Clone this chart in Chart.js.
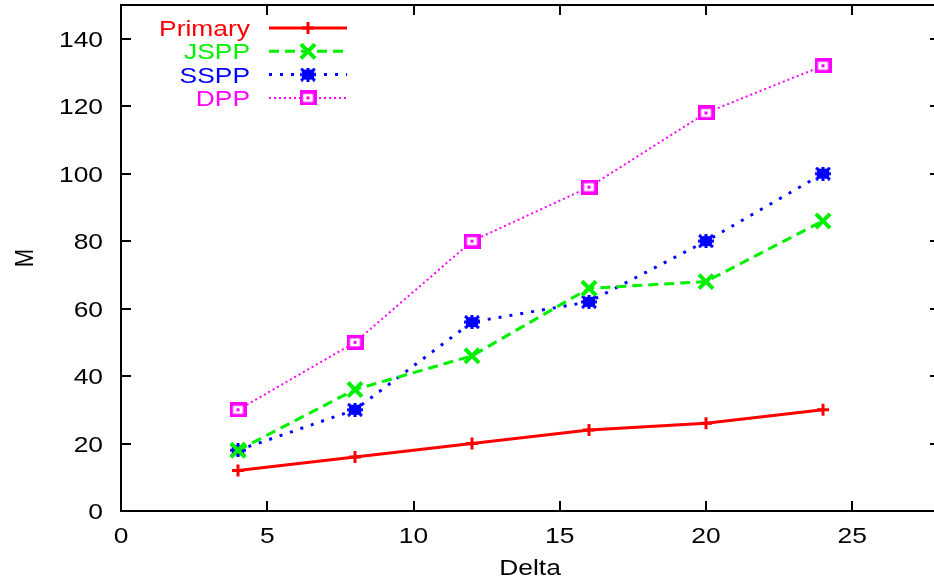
<!DOCTYPE html>
<html>
<head>
<meta charset="utf-8">
<script src="https://cdn.jsdelivr.net/npm/chart.js@4"></script>
<style>
  html, body { margin: 0; padding: 0; background: #fff; overflow: hidden; }
  #wrap { width: 940px; height: 585px; }
</style>
</head>
<body>
<div id="wrap"><canvas id="chartM"></canvas></div>
<script>
// valores leídos por serie
const deltas = [4, 8, 12, 16, 20, 24];
const primary = [12, 16, 20, 24, 26, 30];
const jspp = [18, 36, 46, 66, 68, 86];
const sspp = [18, 30, 56, 62, 80, 100];
const dpp = [30, 50, 80, 96, 118, 132];

const FONT = "22px 'Liberation Sans', Arial, sans-serif";
const STRETCH = 1.2;   // el texto sale un poco ensanchado

const toXY = (ys) => deltas.map((x, i) => ({ x: x, y: ys[i] }));

// texto ensanchado horizontalmente
function wideText(ctx, txt, x, y, align, color) {
    ctx.save();
    ctx.translate(x, y);
    ctx.scale(STRETCH, 1);
    ctx.font = FONT;
    ctx.textAlign = align;
    ctx.textBaseline = 'alphabetic';
    ctx.fillStyle = color;
    ctx.fillText(txt, 0, 0);
    ctx.restore();
}

// marcador '*' relleno para SSPP
function makeStar() {
    const c = document.createElement('canvas');
    c.width = 16; c.height = 14;
    const g = c.getContext('2d');
    g.fillStyle = g.strokeStyle = '#0000ff';
    g.lineWidth = 3;
    g.fillRect(2, 2, 12, 10);
    g.beginPath();
    g.moveTo(1, 1); g.lineTo(15, 13);
    g.moveTo(15, 1); g.lineTo(1, 13);
    g.moveTo(8, 0); g.lineTo(8, 14);
    g.moveTo(0, 7); g.lineTo(16, 7);
    g.stroke();
    return c;
}

// cuadrado hueco con punto para DPP
function makeSquare() {
    const c = document.createElement('canvas');
    c.width = 17; c.height = 15;
    const g = c.getContext('2d');
    g.fillStyle = '#ffffff';
    g.fillRect(0, 0, 17, 15);
    g.strokeStyle = '#ff00ff';
    g.lineWidth = 3.5;
    g.strokeRect(1.75, 1.75, 13.5, 11.5);
    g.fillStyle = '#ff00ff';
    g.fillRect(7, 6, 3, 3);
    return c;
}

// caja del gráfico, marcas hacia dentro, etiquetas y títulos
const boxTicks = {
    id: 'boxTicks',
    afterDraw(chart) {
        const { ctx, chartArea: a, scales } = chart;
        const len = 10;
        ctx.save();
        ctx.strokeStyle = '#000';
        ctx.lineWidth = 2;
        ctx.strokeRect(a.left, a.top, a.right - a.left, a.bottom - a.top);
        ctx.beginPath();
        scales.x.ticks.forEach(t => {
            const px = Math.round(scales.x.getPixelForValue(t.value));
            ctx.moveTo(px, a.bottom); ctx.lineTo(px, a.bottom - len);
            ctx.moveTo(px, a.top); ctx.lineTo(px, a.top + len);
        });
        scales.y.ticks.forEach(t => {
            const py = Math.round(scales.y.getPixelForValue(t.value));
            ctx.moveTo(a.left, py); ctx.lineTo(a.left + len, py);
            ctx.moveTo(a.right, py); ctx.lineTo(a.right - len, py);
        });
        ctx.stroke();
        ctx.restore();

        scales.x.ticks.forEach(t => {
            wideText(ctx, t.label, scales.x.getPixelForValue(t.value), a.bottom + 32, 'center', '#000');
        });
        scales.y.ticks.forEach(t => {
            wideText(ctx, t.label, a.left - 18, scales.y.getPixelForValue(t.value) + 8, 'right', '#000');
        });
        wideText(ctx, 'Delta', 530, 575, 'center', '#000');

        ctx.save();
        ctx.translate(33, 258);
        ctx.rotate(-Math.PI / 2);
        ctx.scale(1, STRETCH);
        ctx.font = FONT;
        ctx.textAlign = 'center';
        ctx.fillStyle = '#000';
        ctx.fillText('M', 0, 0);
        ctx.restore();
    }
};

// leyenda: texto alineado a la derecha, muestra de línea y marcador
const keyLegend = {
    id: 'keyLegend',
    afterDraw(chart) {
        const ctx = chart.ctx;
        chart.data.datasets.forEach((ds, i) => {
            const y = 28 + i * 23.3;
            wideText(ctx, ds.label, 250, y + 8, 'right', ds.borderColor);
            ctx.save();
            ctx.beginPath();
            ctx.setLineDash(ds.borderDash || []);
            ctx.strokeStyle = ds.borderColor;
            ctx.lineWidth = ds.borderWidth;
            ctx.moveTo(269, y);
            ctx.lineTo(347, y);
            ctx.stroke();
            ctx.setLineDash([]);
            ctx.fillStyle = ds.pointBackgroundColor;
            ctx.lineWidth = ds.pointBorderWidth;
            Chart.helpers.drawPoint(ctx, { pointStyle: ds.pointStyle, radius: ds.pointRadius, rotation: 0, borderWidth: ds.pointBorderWidth }, 308, y);
            ctx.restore();
        });
    }
};

const noPad = (s) => { s.paddingTop = 0; s.paddingBottom = 0; s.paddingLeft = 0; s.paddingRight = 0; };

new Chart(document.getElementById('chartM'), {
    type: 'line',
    data: {
        datasets: [
            { label: 'Primary', data: toXY(primary), borderColor: '#ff0000', borderWidth: 3,
              pointStyle: 'cross', pointRadius: 6, pointBorderWidth: 3, pointBackgroundColor: '#ff0000' },
            { label: 'JSPP', data: toXY(jspp), borderColor: '#00f000', borderWidth: 3, borderDash: [10, 6],
              pointStyle: 'crossRot', pointRadius: 10, pointBorderWidth: 4, pointBackgroundColor: '#00f000' },
            { label: 'SSPP', data: toXY(sspp), borderColor: '#0000ff', borderWidth: 3, borderDash: [3, 8],
              pointStyle: makeStar(), pointRadius: 7, pointBorderWidth: 1, pointBackgroundColor: '#0000ff' },
            { label: 'DPP', data: toXY(dpp), borderColor: '#ff00ff', borderWidth: 2, borderDash: [2, 3],
              pointStyle: makeSquare(), pointRadius: 8, pointBorderWidth: 1, pointBackgroundColor: '#ffffff' }
        ]
    },
    options: {
        responsive: true,
        maintainAspectRatio: false,
        animation: false,
        layout: { autoPadding: false, padding: { top: 5, right: 0, left: 0, bottom: 0 } },
        plugins: { legend: { display: false }, tooltip: { enabled: false } },
        elements: { line: { tension: 0, fill: false } },
        scales: {
            x: {
                type: 'linear', min: 0, max: 28,
                grid: { display: false }, border: { display: false },
                ticks: { stepSize: 5, includeBounds: false, display: false },
                afterFit: (s) => { s.height = 74; noPad(s); }
            },
            y: {
                type: 'linear', min: 0, max: 150,
                grid: { display: false }, border: { display: false },
                ticks: { stepSize: 20, includeBounds: false, display: false },
                afterFit: (s) => { s.width = 121; noPad(s); }
            }
        }
    },
    plugins: [boxTicks, keyLegend]
});
</script>
</body>
</html>
